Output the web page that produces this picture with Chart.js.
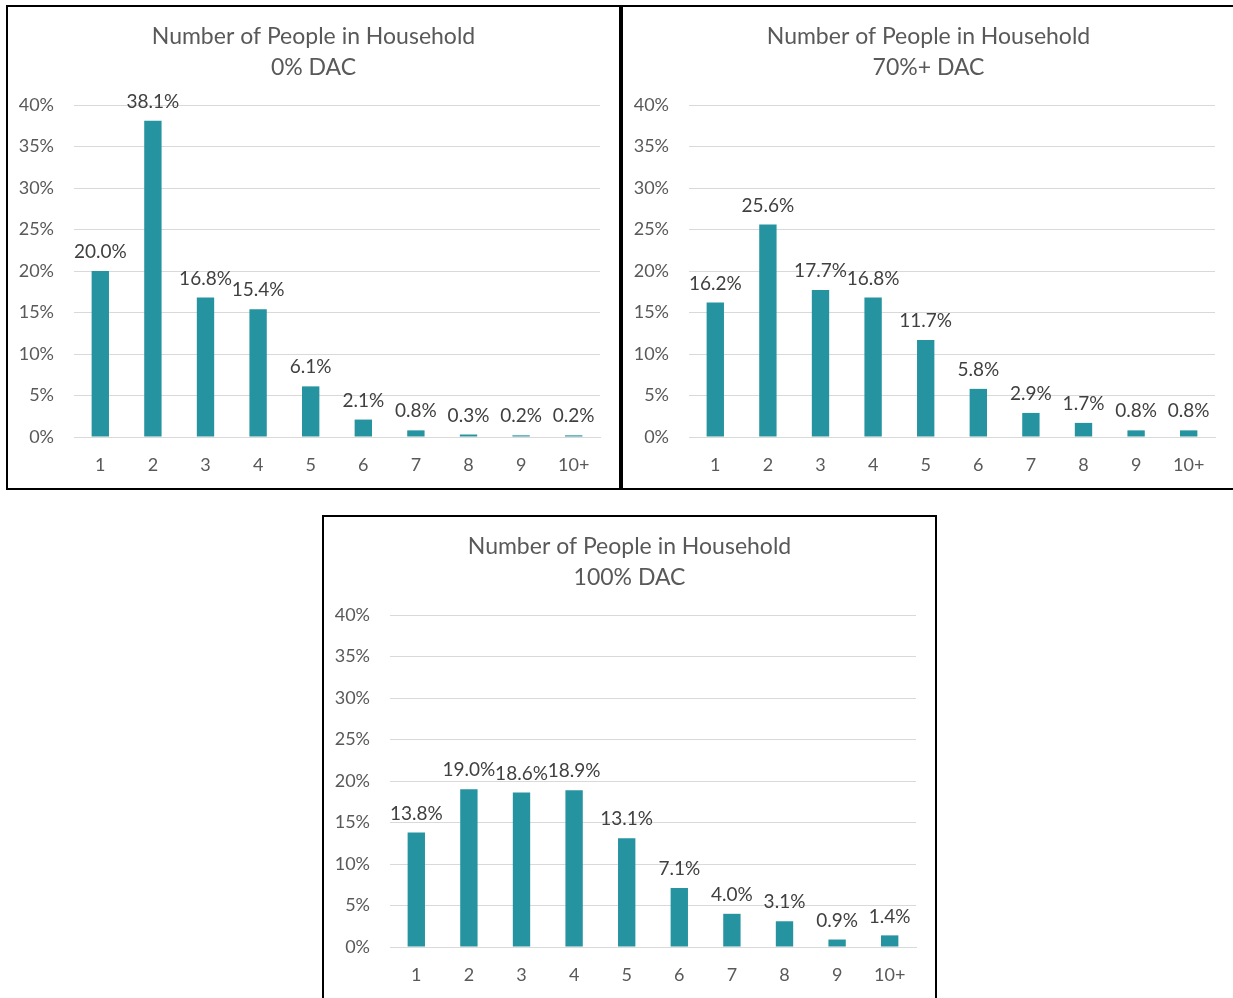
<!DOCTYPE html>
<html>
<head>
<meta charset="utf-8">
<script src="https://cdn.jsdelivr.net/npm/chart.js@4.4.1/dist/chart.umd.min.js"></script>
<style>
  html, body { margin: 0; padding: 0; background: #ffffff; width: 1233px; height: 998px; overflow: hidden; }
  .box { position: absolute; width: 615px; height: 485px; box-sizing: border-box; border: 2px solid #000; background: #fff; }
  .box canvas { position: absolute; left: 0; top: 0; }
</style>
</head>
<body>
<div class="box" style="left:6px; top:5px;"><canvas id="c1" width="611" height="481"></canvas></div>
<div class="box" style="left:621px; top:5px;"><canvas id="c2" width="611" height="481"></canvas></div>
<div class="box" style="left:322px; top:515px;"><canvas id="c3" width="611" height="481"></canvas></div>
<script>
const categories = ['1', '2', '3', '4', '5', '6', '7', '8', '9', '10+'];
const titleLine1 = 'Number of People in Household';
const subtitle0 = '0% DAC';
const subtitle70 = '70%+ DAC';
const subtitle100 = '100% DAC';
const values0 = [20.0, 38.1, 16.8, 15.4, 6.1, 2.1, 0.8, 0.3, 0.2, 0.2];
const values70 = [16.2, 25.6, 17.7, 16.8, 11.7, 5.8, 2.9, 1.7, 0.8, 0.8];
const values100 = [13.8, 19.0, 18.6, 18.9, 13.1, 7.1, 4.0, 3.1, 0.9, 1.4];
const yTicks = [0, 5, 10, 15, 20, 25, 30, 35, 40];

const FONT = 'Lato, "Open Sans", sans-serif';

const barLabels = {
  id: 'barLabels',
  afterDatasetsDraw(chart) {
    const ctx = chart.ctx;
    const ds = chart.data.datasets[0];
    const meta = chart.getDatasetMeta(0);
    ctx.save();
    ctx.font = '19px ' + FONT;
    ctx.fillStyle = '#404040';
    ctx.textAlign = 'center';
    ctx.textBaseline = 'middle';
    meta.data.forEach((el, i) => {
      ctx.fillText(ds.data[i].toFixed(1) + '%', el.x, el.y - 19);
    });
    ctx.restore();
  }
};

function makeChart(id, sub, values) {
  return new Chart(document.getElementById(id), {
    type: 'bar',
    data: {
      labels: categories,
      datasets: [{
        data: values,
        backgroundColor: '#2594a0',
        borderWidth: 0,
        barPercentage: 0.33,
        categoryPercentage: 1.0
      }]
    },
    options: {
      responsive: false,
      animation: false,
      events: [],
      layout: { padding: { left: 0, right: 0, top: 0, bottom: 0 } },
      plugins: {
        legend: { display: false },
        tooltip: { enabled: false },
        title: {
          display: true,
          text: [titleLine1, sub],
          color: '#595959',
          font: { family: FONT, size: 23, weight: 'normal', lineHeight: 1.348 },
          padding: { top: 14.5, bottom: 21.5 }
        }
      },
      scales: {
        x: {
          grid: { display: false, drawTicks: false },
          border: { display: true, color: '#d9d9d9', width: 1 },
          ticks: { color: '#595959', font: { family: FONT, size: 18 }, padding: 17 },
          afterFit(scale) { scale.height = 51; }
        },
        y: {
          min: 0,
          max: 40,
          afterBuildTicks(scale) { scale.ticks = yTicks.map(v => ({ value: v })); },
          grid: { color: '#d9d9d9', lineWidth: 1, drawTicks: false },
          border: { display: false },
          ticks: {
            color: '#595959',
            font: { family: FONT, size: 18 },
            padding: 20,
            callback: v => v + '%'
          },
          afterFit(scale) { scale.width = 66; }
        },
        yRight: {
          position: 'right',
          display: true,
          min: 0,
          max: 40,
          grid: { display: false, drawTicks: false },
          border: { display: false },
          ticks: { display: false },
          afterFit(scale) { scale.width = 19; }
        }
      }
    },
    plugins: [barLabels]
  });
}

makeChart('c1', subtitle0, values0);
makeChart('c2', subtitle70, values70);
makeChart('c3', subtitle100, values100);
</script>
</body>
</html>
